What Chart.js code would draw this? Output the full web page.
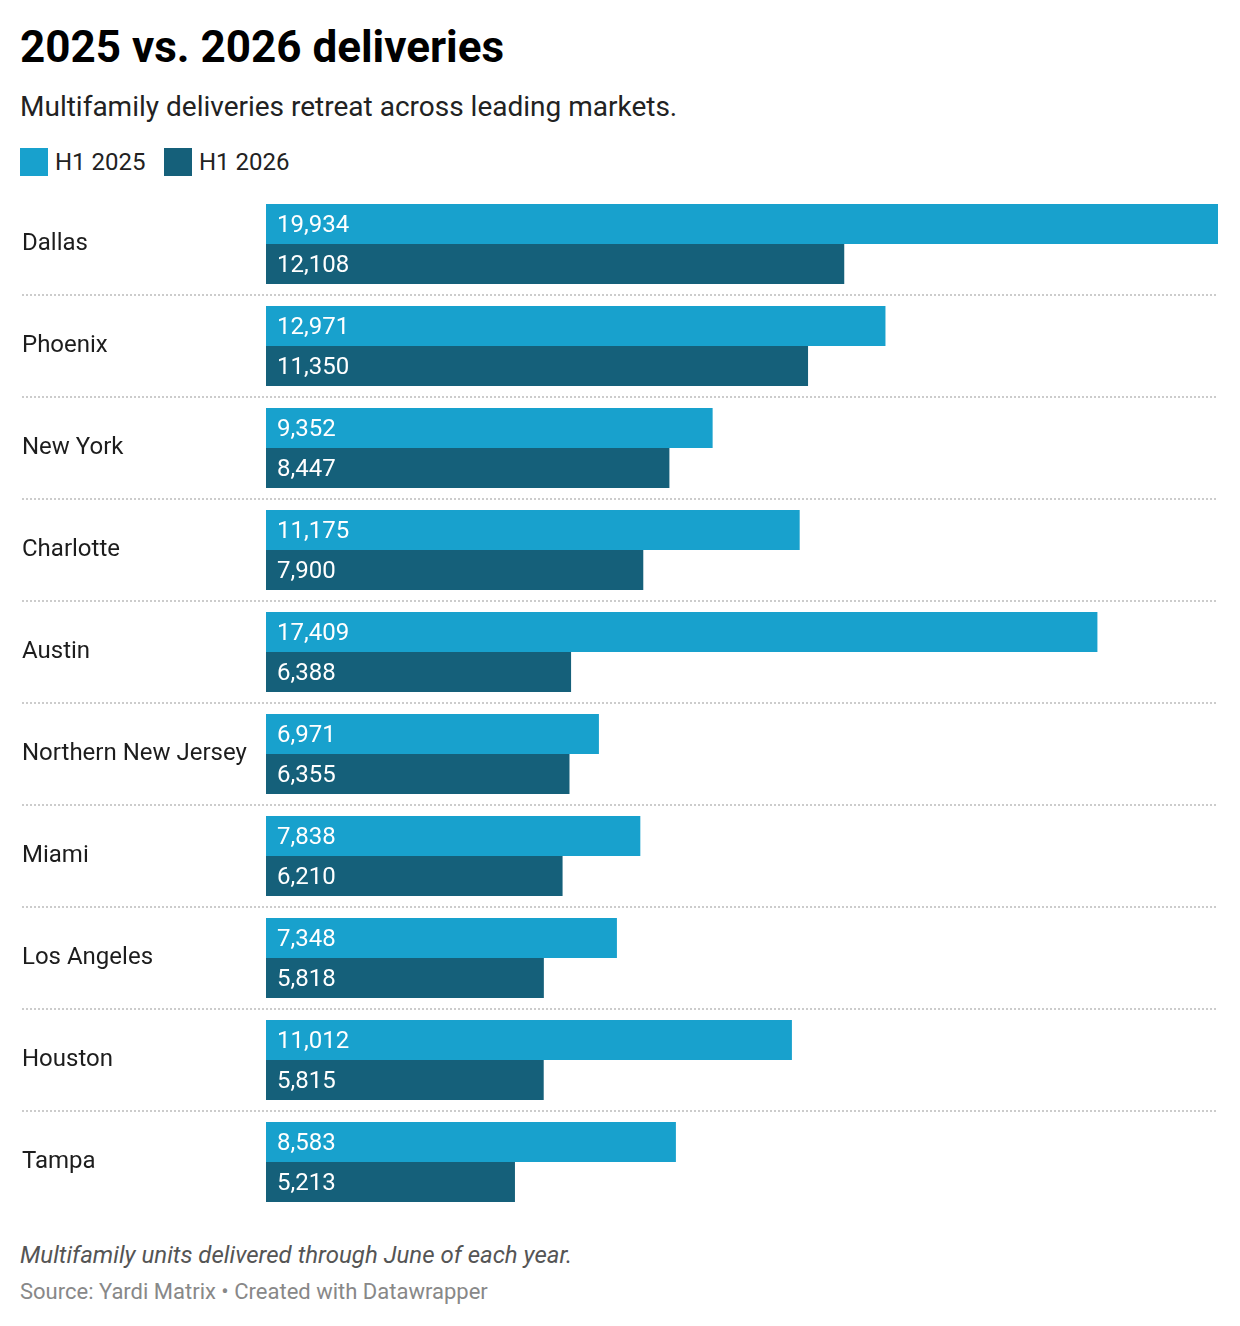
<!DOCTYPE html>
<html>
<head>
<meta charset="utf-8">
<script src="https://cdn.jsdelivr.net/npm/chart.js@4"></script>
<style>
  body { margin: 0; background: #fff; font-family: Roboto, sans-serif; color: #1d1d1d; }
  #page { position: relative; width: 1240px; height: 1326px; }
  .t { position: absolute; white-space: nowrap; }
  h1.t { left: 20px; top: 25px; margin: 0; font-size: 44px; line-height: 44px; font-weight: 700; color: #000; }
  .sub { left: 20px; top: 93px; font-size: 28px; line-height: 28px; color: #222; }
  .sw { position: absolute; top: 148px; width: 28px; height: 28px; }
  .lab { top: 150px; font-size: 24px; line-height: 24px; color: #222; }
  #wrap { position: absolute; left: 0; top: 181px; width: 1240px; height: 1044px; }
  .note { left: 20px; top: 1243px; font-size: 24px; line-height: 24px; font-style: italic; color: #555; }
  .src { left: 20px; top: 1281px; font-size: 22px; line-height: 22px; color: #888; }
</style>
</head>
<body>
<div id="page">
  <h1 class="t">2025 vs. 2026 deliveries</h1>
  <div class="t sub">Multifamily deliveries retreat across leading markets.</div>
  <div class="sw" style="left:20px;background:#18a1cd"></div>
  <div class="t lab" style="left:55px">H1 2025</div>
  <div class="sw" style="left:164px;background:#15607a"></div>
  <div class="t lab" style="left:199px">H1 2026</div>
  <div id="wrap"><canvas id="chart"></canvas></div>
  <div class="t note">Multifamily units delivered through June of each year.</div>
  <div class="t src">Source: Yardi Matrix • Created with Datawrapper</div>
</div>
<script>
// Dados do gráfico
const markets = ['Dallas', 'Phoenix', 'New York', 'Charlotte', 'Austin',
    'Northern New Jersey', 'Miami', 'Los Angeles', 'Houston', 'Tampa'];
const h1_2025 = [19934, 12971, 9352, 11175, 17409, 6971, 7838, 7348, 11012, 8583];
const h1_2026 = [12108, 11350, 8447, 7900, 6388, 6355, 6210, 5818, 5815, 5213];

// Linhas pontilhadas entre as categorias
const separators = {
    id: 'separators',
    beforeDatasetsDraw(chart) {
        const ctx = chart.ctx;
        const y = chart.scales.y;
        ctx.save();
        ctx.strokeStyle = '#cccccc';
        ctx.lineWidth = 2;
        ctx.setLineDash([2, 2]);
        for (let i = 0; i < markets.length - 1; i++) {
            const pos = (y.getPixelForValue(i) + y.getPixelForValue(i + 1)) / 2;
            ctx.beginPath();
            ctx.moveTo(22, Math.round(pos));
            ctx.lineTo(chart.chartArea.right, Math.round(pos));
            ctx.stroke();
        }
        ctx.restore();
    }
};

// Valores dentro das barras
const valueLabels = {
    id: 'valueLabels',
    afterDatasetsDraw(chart) {
        const ctx = chart.ctx;
        ctx.save();
        ctx.font = '24px Roboto';
        ctx.fillStyle = '#ffffff';
        ctx.textAlign = 'left';
        ctx.textBaseline = 'alphabetic';
        chart.data.datasets.forEach((ds, i) => {
            chart.getDatasetMeta(i).data.forEach((bar, j) => {
                ctx.fillText(ds.data[j].toLocaleString('en-US'), bar.base + 11, bar.y + 7.5);
            });
        });
        ctx.restore();
    }
};

const chart = new Chart(document.getElementById('chart').getContext('2d'), {
    type: 'bar',
    data: {
        labels: markets,
        datasets: [
            { label: 'H1 2025', data: h1_2025, backgroundColor: '#18a1cd' },
            { label: 'H1 2026', data: h1_2026, backgroundColor: '#15607a' }
        ]
    },
    options: {
        indexAxis: 'y',
        responsive: true,
        maintainAspectRatio: false,
        animation: false,
        layout: { padding: { left: 22, right: 22, top: 0, bottom: 0 } },
        datasets: { bar: { categoryPercentage: 80 / 102, barPercentage: 1.0 } },
        plugins: { legend: { display: false }, tooltip: { enabled: false } },
        scales: {
            x: { min: 0, max: 19934, display: false },
            y: {
                grid: { display: false },
                border: { display: false },
                afterFit(scale) { scale.width = 244; },
                ticks: {
                    crossAlign: 'far',
                    padding: 0,
                    color: '#1d1d1d',
                    font: { family: 'Roboto', size: 24, lineHeight: 1 }
                }
            }
        }
    },
    plugins: [separators, valueLabels]
});
</script>
</body>
</html>
